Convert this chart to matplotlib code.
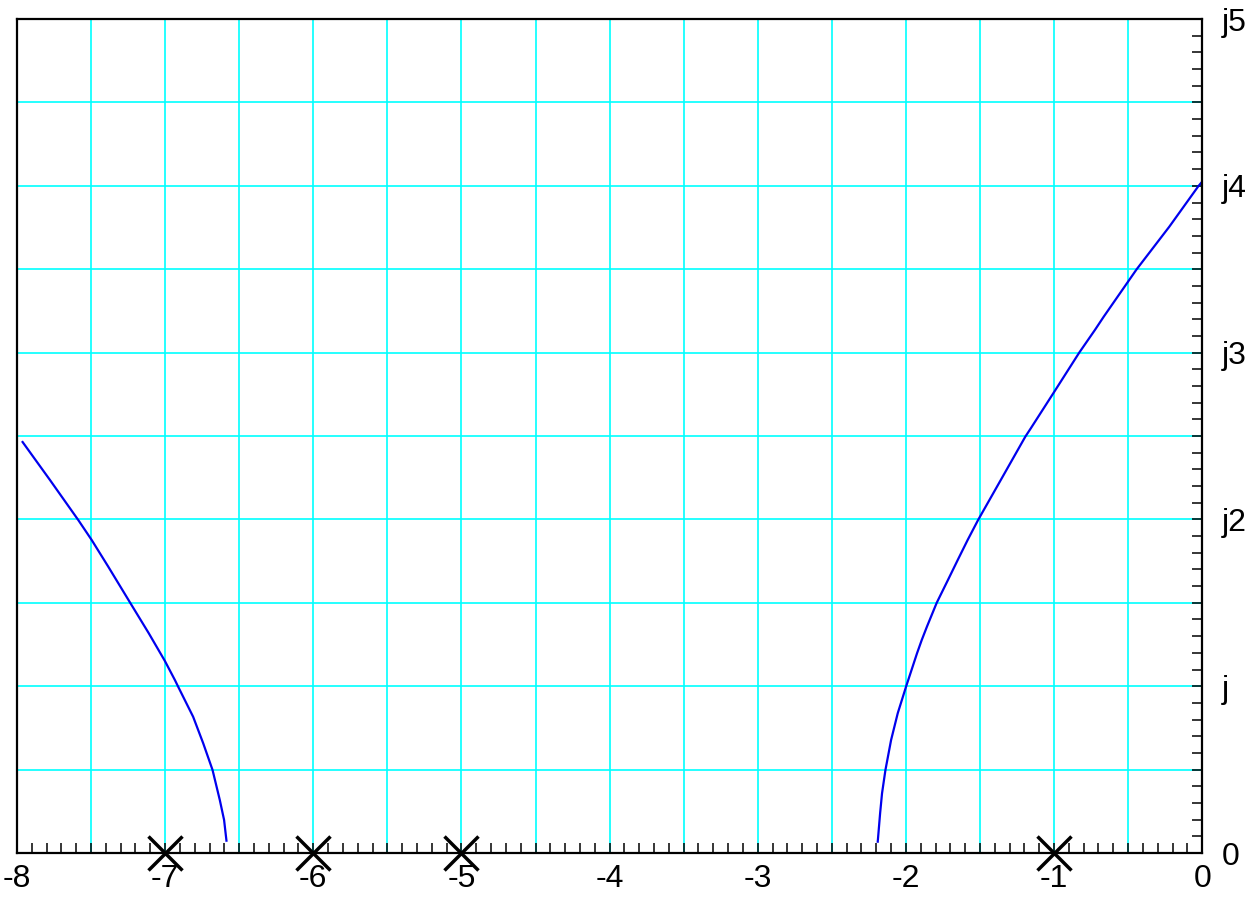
import matplotlib
matplotlib.use("Agg")
import matplotlib.pyplot as plt
import numpy as np
from matplotlib.ticker import MultipleLocator

# Root locus branches
left_re = [-6.586, -6.602, -6.631, -6.680, -6.743, -6.811, -6.912, -6.934, -7.002,
           -7.110, -7.235, -7.384, -7.496, -7.586, -7.777, -7.962]
left_im = [0.074, 0.198, 0.318, 0.498, 0.658, 0.817, 0.997, 1.037, 1.152,
           1.317, 1.499, 1.717, 1.877, 1.996, 2.236, 2.464]

right_re = [-2.190, -2.174, -2.161, -2.138, -2.100, -2.055, -1.999, -1.925,
            -1.893, -1.858, -1.792, -1.716, -1.650, -1.583, -1.513, -1.347,
            -1.194, -1.157, -0.998, -0.830, -0.724, -0.665, -0.443, -0.222,
            -0.025, 0.0]
right_im = [0.068, 0.238, 0.358, 0.498, 0.677, 0.838, 0.997, 1.197,
            1.277, 1.357, 1.500, 1.637, 1.757, 1.877, 1.996, 2.256,
            2.496, 2.546, 2.766, 3.000, 3.136, 3.215, 3.499, 3.755,
            3.999, 4.025]

poles_re = [-7, -6, -5, -1]
poles_im = [0, 0, 0, 0]

x_ticks = [-8, -7, -6, -5, -4, -3, -2, -1, 0]
x_labels = ["-8", "-7", "-6", "-5", "-4", "-3", "-2", "-1", "0"]
y_ticks = [0, 1, 2, 3, 4, 5]
y_labels = ["0", "j", "j2", "j3", "j4", "j5"]

plt.rcParams['font.family'] = ['Liberation Sans', 'DejaVu Sans']

fig = plt.figure(figsize=(12.57, 8.98), dpi=100)
ax = fig.add_axes([0.0135, 0.0501, 0.9429, 0.9287])

ax.set_xlim(-8, 0)
ax.set_ylim(0, 5)

# grid
for gx in np.arange(-7.5, 0, 0.5):
    ax.axvline(gx, color='#00ffff', lw=1.2, zorder=1)
for gy in np.arange(0.5, 5, 0.5):
    ax.axhline(gy, color='#00ffff', lw=1.2, zorder=1)

ax.plot(left_re, left_im, color='#0000ee', lw=1.6, zorder=3,
        solid_joinstyle='round')
ax.plot(right_re, right_im, color='#0000ee', lw=1.6, zorder=3,
        solid_joinstyle='round')

ax.plot(poles_re, poles_im, linestyle='none', marker='x', markersize=25,
        markeredgewidth=2.5, color='black', clip_on=False, zorder=5)

ax.set_xticks(x_ticks)
ax.set_xticklabels(x_labels)
ax.set_yticks(y_ticks)
ax.set_yticklabels(y_labels)
ax.xaxis.set_minor_locator(MultipleLocator(0.1))
ax.yaxis.set_minor_locator(MultipleLocator(0.1))

ax.yaxis.tick_right()
ax.tick_params(axis='x', which='both', direction='in', length=7, width=1.1,
               top=False, bottom=True, labelsize=23, pad=8)
ax.tick_params(axis='y', which='both', direction='in', length=7, width=1.1,
               left=False, right=True, labelsize=23, pad=14)
for lab in ax.get_yticklabels():
    lab.set_horizontalalignment('left')

for sp in ax.spines.values():
    sp.set_linewidth(1.6)
    sp.set_zorder(6)

fig.savefig("out.png", dpi=100)
